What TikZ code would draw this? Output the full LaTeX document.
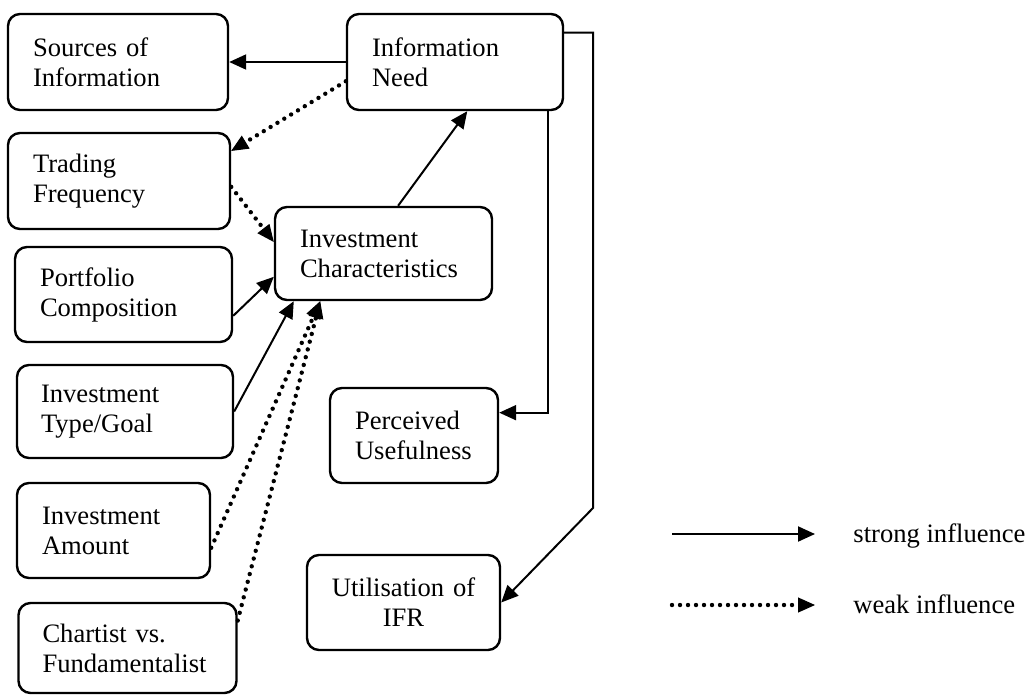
\documentclass[tikz,border=0pt]{standalone}
\usepackage{fontspec}
\setmainfont{Liberation Serif}
\usetikzlibrary{arrows.meta}
\newcommand\boxfont{\fontsize{13.3pt}{15pt}\selectfont}
\tikzset{
  box/.style={draw, rounded corners=6pt, line width=1.2pt, inner xsep=12.5pt,
              align=left, font=\boxfont},
  strong/.style={line width=1pt, -{Triangle[length=8.5pt,width=7.5pt]}},
  weak/.style={line width=2.2pt, line cap=round, dash pattern=on 0pt off 4pt,
               -{Triangle[length=8.5pt,width=7.5pt,line width=0.5pt,line cap=butt]}},
  legendtext/.style={anchor=base west, inner sep=0pt, font=\boxfont}
}
\begin{document}
\begin{tikzpicture}[x=0.5pt, y=-0.5pt]
\useasboundingbox (0,0) rectangle (1028,697);

% boxes
\node[box, text width=85pt,   minimum height=48pt]   (src)   at (118,62)     {Sources of\\Information};
\node[box, text width=83pt,   minimum height=48pt]   (need)  at (455,62)     {Information\\Need};
\node[box, text width=86pt,   minimum height=48pt]   (trad)  at (119,181)    {Trading\\Frequency};
\node[box, text width=83.5pt, minimum height=46.5pt] (invc)  at (383.5,253.5) {Investment\\Characteristics};
\node[box, text width=83.5pt, minimum height=47.5pt] (port)  at (123.5,294.5) {Portfolio\\Composition};
\node[box, text width=84pt,   minimum height=46.5pt, inner xsep=12pt] (type) at (125,411.5) {Investment\\Type/Goal};
\node[box, text width=71.5pt, minimum height=47.5pt] (amt)   at (113.5,530.5) {Investment\\Amount};
\node[box, text width=85pt,   minimum height=45pt, inner xsep=12pt] (chart) at (127.5,648) {Chartist vs.\\Fundamentalist};
\node[box, text width=59pt,   minimum height=47.5pt] (perc)  at (414,435.5)  {Perceived\\Usefulness};
\node[box, text width=84.5pt, minimum height=47.5pt, inner xsep=6pt, align=center] (util) at (403.5,602.5) {Utilisation of\\IFR};

% connectors
\draw[strong] (need.west) -- (src.east);
\draw[weak]   (need.190.5) -- (trad.15.6);
\draw[weak]   (trad.-3.1) -- (invc.174.5);
\draw[strong] (port.-11.7) -- (invc.192.7);
\draw[strong] (type.east) -- (invc.208.5);
\draw[weak]   (amt.-10.3) -- (invc.217.1);
\draw[weak]   (chart.14.3) -- (invc.217.1);
\draw[strong] (invc.73.8) -- (need.-76);
\draw[strong] (need.-28.07) |- (perc.15.6);
\coordinate (rbend) at (593,508);
\draw[strong] (need.15.5) -| (rbend) -- (util.east);

% legend
\coordinate (ls1) at (672,534);
\coordinate (ls2) at (815,534);
\coordinate (lw1) at (672,605);
\coordinate (lw2) at (815,605);
\draw[strong] (ls1) -- (ls2);
\draw[weak]   (lw1) -- (lw2);
\node[legendtext] (lst) at (853,542) {strong influence};
\node[legendtext] (lwt) at (853,613) {weak influence};
\end{tikzpicture}
\end{document}
